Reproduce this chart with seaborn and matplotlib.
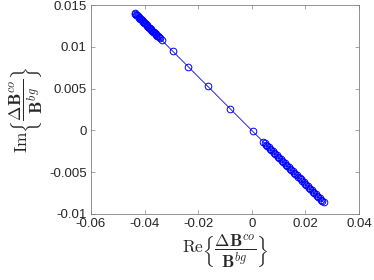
import matplotlib
matplotlib.use("Agg")
import matplotlib.pyplot as plt
import numpy as np
import pandas as pd
import seaborn as sns

re_part = [-0.0437, -0.0434, -0.0431, -0.0428, -0.0425, -0.0422, -0.0419, -0.0416,
           -0.0413, -0.0410, -0.0407, -0.0404, -0.0401, -0.0398, -0.0395, -0.0392,
           -0.0389, -0.0386, -0.0383, -0.0380, -0.0377, -0.0374, -0.0371, -0.0368,
           -0.0365, -0.0362, -0.0359, -0.0356, -0.0353, -0.0350, -0.0347, -0.0344,
           -0.0335, -0.0295, -0.0237, -0.0165, -0.0081, 0.0003,
           0.0043, 0.0048, 0.0053, 0.0058, 0.0063, 0.0068, 0.0073, 0.0078, 0.0083,
           0.0088, 0.0093, 0.0098, 0.0103, 0.0108, 0.0113, 0.0118, 0.0123, 0.0128,
           0.0133, 0.0138, 0.0143, 0.0148, 0.0153, 0.0158, 0.0163, 0.0168, 0.0173,
           0.0178, 0.0183, 0.0188, 0.0193, 0.0198, 0.0203, 0.0208, 0.0213, 0.0218,
           0.0223, 0.0228, 0.0233, 0.0238, 0.0243, 0.0248, 0.0253, 0.0258, 0.0263,
           0.0268]
im_part = [0.01405, 0.01395, 0.01386, 0.01376, 0.01366, 0.01357, 0.01347, 0.01337,
           0.01328, 0.01318, 0.01309, 0.01299, 0.01289, 0.01280, 0.01270, 0.01260,
           0.01251, 0.01241, 0.01231, 0.01222, 0.01212, 0.01202, 0.01193, 0.01183,
           0.01173, 0.01164, 0.01154, 0.01145, 0.01135, 0.01125, 0.01116, 0.01106,
           0.01077, 0.00948, 0.00762, 0.00530, 0.00260, -0.00010,
           -0.00138, -0.00154, -0.00170, -0.00186, -0.00203, -0.00219, -0.00235,
           -0.00251, -0.00267, -0.00283, -0.00299, -0.00315, -0.00331, -0.00347,
           -0.00363, -0.00379, -0.00395, -0.00412, -0.00428, -0.00444, -0.00460,
           -0.00476, -0.00492, -0.00508, -0.00524, -0.00540, -0.00556, -0.00572,
           -0.00588, -0.00604, -0.00620, -0.00637, -0.00653, -0.00669, -0.00685,
           -0.00701, -0.00717, -0.00733, -0.00749, -0.00765, -0.00781, -0.00797,
           -0.00813, -0.00829, -0.00846, -0.00862]

x_ticks = [-0.06, -0.04, -0.02, 0, 0.02, 0.04]
y_ticks = [-0.01, -0.005, 0, 0.005, 0.01, 0.015]

sns.set_style("ticks")
plt.rcParams['font.family'] = ['Liberation Sans', 'DejaVu Sans']
plt.rcParams['mathtext.fontset'] = 'cm'
plt.rcParams['axes.unicode_minus'] = False

df = pd.DataFrame({"re": re_part, "im": im_part})

fig = plt.figure(figsize=(3.74, 2.8), dpi=100)
ax = fig.add_axes([0.243, 0.236, 0.717, 0.746])

sns.lineplot(data=df, x="re", y="im", sort=False, estimator=None, ax=ax,
             color="blue", linewidth=0.6, marker="o", markersize=4.8,
             markerfacecolor="none", markeredgecolor="blue", markeredgewidth=0.7)

ax.set_xlim(-0.06, 0.04)
ax.set_ylim(-0.01, 0.015)
ax.set_xticks(x_ticks)
ax.set_yticks(y_ticks)
ax.set_xticklabels(["%g" % v for v in x_ticks])
ax.set_yticklabels(["%g" % v for v in y_ticks])

grey = "#262626"
for s in ax.spines.values():
    s.set_visible(True)
    s.set_color("#808080")
    s.set_linewidth(0.6)
ax.tick_params(direction="in", length=3, width=0.5, color="#808080",
               labelsize=9.5, labelcolor=grey, top=True, right=True, pad=3)

ax.set_xlabel(r"$\mathrm{Re}\left\{\dfrac{\Delta\mathbf{B}^{co}}{\mathbf{B}^{bg}}\right\}$",
              fontsize=12.5, color=grey, labelpad=2)
ax.set_ylabel(r"$\mathrm{Im}\left\{\dfrac{\Delta\mathbf{B}^{co}}{\mathbf{B}^{bg}}\right\}$",
              fontsize=12.5, color=grey, labelpad=2)

fig.savefig("out.png", dpi=100)
